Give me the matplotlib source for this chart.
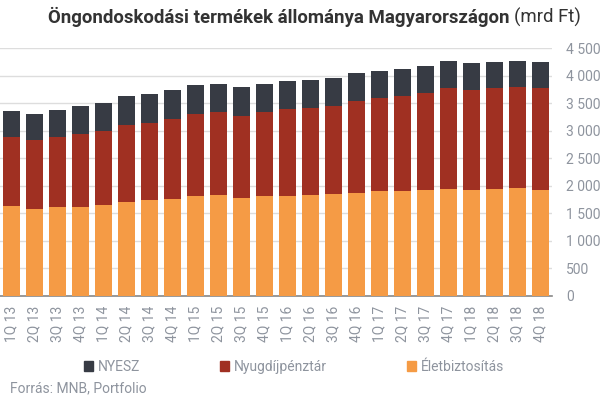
import numpy as np
import matplotlib
matplotlib.use('Agg')
import matplotlib.pyplot as plt
from matplotlib.patches import Patch
from matplotlib.ticker import FuncFormatter

plt.rcParams['font.family'] = ['Roboto', 'DejaVu Sans']

quarters = ['1Q 13', '2Q 13', '3Q 13', '4Q 13', '1Q 14', '2Q 14', '3Q 14', '4Q 14',
            '1Q 15', '2Q 15', '3Q 15', '4Q 15', '1Q 16', '2Q 16', '3Q 16', '4Q 16',
            '1Q 17', '2Q 17', '3Q 17', '4Q 17', '1Q 18', '2Q 18', '3Q 18', '4Q 18']

# mrd Ft
eletbiztositas = [1636, 1582, 1618, 1618, 1654, 1709, 1745, 1763, 1818, 1836, 1782, 1818,
                  1818, 1836, 1854, 1873, 1909, 1909, 1927, 1945, 1927, 1945, 1963, 1927]
nyugdijpenztar = [1255, 1254, 1273, 1327, 1346, 1400, 1400, 1455, 1491, 1509, 1490, 1527,
                  1582, 1582, 1600, 1672, 1691, 1727, 1763, 1836, 1818, 1836, 1837, 1854]
nyesz = [472, 473, 491, 509, 509, 527, 527, 527, 527, 509, 528, 509,
         509, 509, 509, 509, 490, 491, 491, 491, 491, 473, 472, 473]

c_elet = '#F59B45'
c_nyugd = '#A03022'
c_nyesz = '#373B44'
grey_txt = '#8E949E'

fig = plt.figure(figsize=(6.05, 3.98), dpi=100)
ax = fig.add_axes([0.0, 0.2563, 552 / 605, 0.8786 - 0.2563])

x = np.arange(len(quarters))
e = np.array(eletbiztositas)
n = np.array(nyugdijpenztar)
ax.bar(x, e, width=0.74, color=c_elet, zorder=3)
ax.bar(x, n, width=0.74, bottom=e, color=c_nyugd, zorder=3)
ax.bar(x, nyesz, width=0.74, bottom=e + n, color=c_nyesz, zorder=3)

ax.set_xlim(-0.5, len(quarters) - 0.5)
ax.set_ylim(0, 4500)
ax.set_yticks(np.arange(0, 4501, 500))
ax.yaxis.set_major_formatter(FuncFormatter(lambda v, p: f'{int(v):,}'.replace(',', ' ')))
ax.yaxis.tick_right()
ax.grid(axis='y', color='#DDDDDD', lw=1, zorder=0)
ax.tick_params(axis='y', length=0, pad=10, labelsize=10, labelcolor=grey_txt)
ax.set_xticks(x)
ax.set_xticklabels(quarters, rotation=90)
ax.tick_params(axis='x', length=0, pad=7, labelsize=10, labelcolor=grey_txt)
for s in ['top', 'left', 'right']:
    ax.spines[s].set_visible(False)
ax.spines['bottom'].set_color('#888888')
ax.spines['bottom'].set_linewidth(1.2)

fig.text(510 / 605, 0.957, 'Öngondoskodási termékek állománya Magyarországon',
         ha='right', va='center', fontsize=13.4, fontweight='bold', color='#333333')
fig.text(514 / 605, 0.957, '(mrd Ft)', ha='left', va='center', fontsize=13.4, color='#333333')

handles = [Patch(color=c_nyesz, label='NYESZ'),
           Patch(color=c_nyugd, label='Nyugdíjpénztár'),
           Patch(color=c_elet, label='Életbiztosítás')]
leg = fig.legend(handles=handles, loc='center left', bbox_to_anchor=(84 / 605, 1 - 367 / 398),
                 ncol=3, frameon=False, fontsize=10, handlelength=0.65, handleheight=0.65,
                 handletextpad=0.35, columnspacing=5.75, borderpad=0, borderaxespad=0)
for t in leg.get_texts():
    t.set_color(grey_txt)

fig.text(10 / 605, 1 - 388 / 398, 'Forrás: MNB, Portfolio', ha='left', va='center',
         fontsize=10, color=grey_txt)

fig.savefig('out.png', dpi=100)
